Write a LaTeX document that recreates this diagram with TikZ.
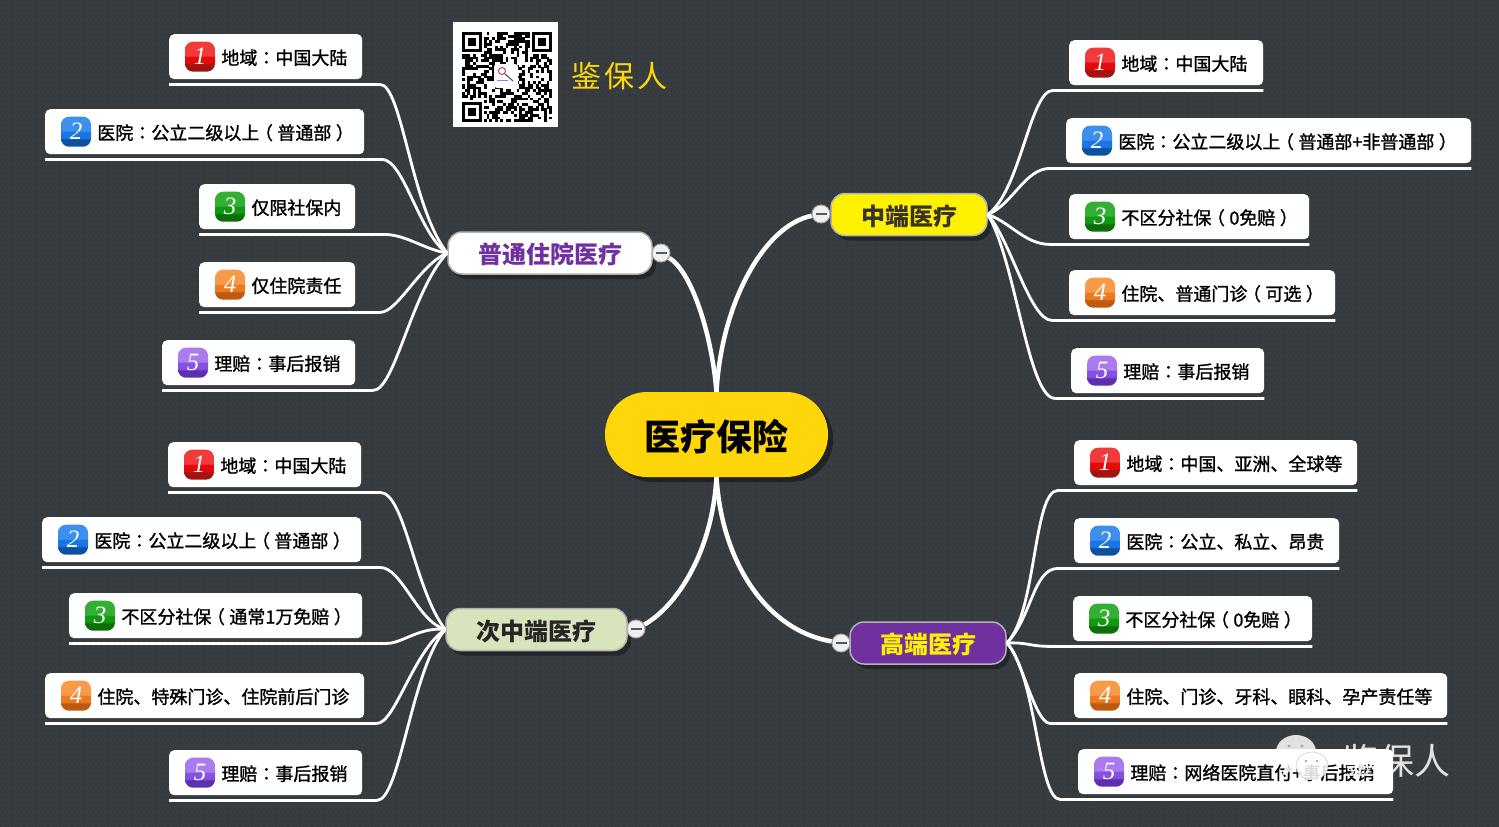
\documentclass[tikz,border=0pt]{standalone}
\usepackage{fontspec}
\usetikzlibrary{positioning}
\usetikzlibrary{calc,shadows,patterns.meta}
\newfontfamily\cjk{Noto Sans CJK SC}
\newfontfamily\cjkthick[FakeBold=1.3]{Noto Sans CJK SC}
\newfontfamily\cjkmid[FakeBold=1.3]{Noto Sans CJK TC}
\newfontfamily\numfont{Liberation Serif}
\newcommand{\cln}{{\cjkmid ：}}
\newcommand{\lpr}{\hspace{-4.5pt}（\hspace{4.5pt}}
\newcommand{\rpr}{\hspace{4.5pt}）\hspace{-4.5pt}}
\newcommand{\dropped}[2]{\raisebox{0pt}[\dimexpr\height+#1\relax]{#2}}
\definecolor{slate}{HTML}{373C41}
\definecolor{slatedot}{HTML}{2F3338}
\definecolor{rootgold}{HTML}{FFD60A}
\definecolor{plum}{HTML}{7030A0}
\colorlet{rimgrey}{gray!60}
\newcommand{\numshade}[4]{%
  \definecolor{#1t}{HTML}{#2}\definecolor{#1m}{HTML}{#3}\definecolor{#1b}{HTML}{#4}%
  \pgfdeclareverticalshading{#1}{100bp}{color(0bp)=(#1b);color(37bp)=(#1b);color(40bp)=(#1m);
    color(50bp)=(#1m);color(50.5bp)=(#1t);color(100bp)=(#1t)}}
\numshade{numred}{F23A3A}{E20A0A}{A01414}
\numshade{numblue}{3D8FEE}{1A76E6}{0D509E}
\numshade{numgreen}{33B033}{119911}{0B6E0B}
\numshade{numorange}{F79A4A}{EE7A20}{BB5A10}
\numshade{numpurple}{A97BEE}{8650E0}{5A2FB0}
\tikzset{
  twig/.style={white,line width=2.8pt},
  limb/.style={white,line width=4.5pt},
  leafbox/.style={fill=white,rounded corners=5pt,minimum height=45pt,inner sep=0pt,anchor=north west},
  numbox/.style={shade,rounded corners=8pt,minimum size=30pt,inner sep=0pt,text=white,font=\fontsize{25}{25}\numfont\itshape},
  leaftext/.style={inner sep=0pt,text=black,yshift=-1pt,font=\fontsize{18}{20}\cjkthick},
  topic/.style={rounded corners=14pt,draw=rimgrey,line width=1.5pt,inner sep=0pt,
    minimum height=42pt,font=\fontsize{24}{26}\cjk\bfseries,
    drop shadow={shadow xshift=4pt,shadow yshift=-5pt,fill=black,opacity=0.35}},
  toggle/.style={circle,draw=gray!70,fill=gray!12,line width=1pt,minimum size=18pt,inner sep=0pt,text=gray!70!black}
}
\newcommand{\leafitem}[8]{%
  \node[leafbox,minimum width=#4pt] (#1) at (#2,#3) {};
  \node[numbox,shading=#5] (#1n) at ($(#1.west)+(31,0)$) {#6};
  \node[leaftext,right=6pt of #1n] (#1t) {#7};
  \coordinate (#1l) at ($(#1.south west)+(0,5)$);
  \coordinate (#1r) at ($(#1.south east)+(0,5)$);
  \coordinate (#1e) at (#8,0 |- #1l);
}
\begin{document}
\begin{tikzpicture}[x=1pt,y=-1pt]
\useasboundingbox (0,0) rectangle (1499,827);

% Background
\fill[slate] (0,0) rectangle (1499,827);
\fill[pattern={Dots[distance=6pt,radius=0.9pt]},pattern color=slatedot] (0,0) rectangle (1499,827);

% Centre and main topics
\node[rounded corners=42pt,fill=rootgold,minimum width=223pt,minimum height=85pt,inner sep=0pt,
  font=\fontsize{36}{38}\cjk\bfseries,text=black,
  drop shadow={shadow xshift=5pt,shadow yshift=-5pt,fill=black,opacity=0.4}] (root) at (716.5,434.5) {\dropped{4pt}{医疗保险}};
\node[topic,fill=white,text=plum,minimum width=204pt] (nwT) at (550,253) {\dropped{3pt}{普通住院医疗}};
\node[topic,fill=yellow,text=black!80!olive,minimum width=156pt] (neT) at (909,214.5) {\dropped{3pt}{中端医疗}};
\node[topic,fill={rgb,255:red,216;green,228;blue,188},text=black!85,minimum width=181pt] (swT) at (536.5,629.5) {\dropped{3pt}{次中端医疗}};
\node[topic,fill=plum,text=yellow,minimum width=156pt] (seT) at (928,643) {\dropped{3pt}{高端医疗}};

\node[toggle] (nwG) at (661,253) {\rule{11pt}{1.2pt}};
\node[toggle] (neG) at (821,214) {\rule{11pt}{1.2pt}};
\node[toggle] (swG) at (636,629) {\rule{11pt}{1.2pt}};
\node[toggle] (seG) at (841,643) {\rule{11pt}{1.2pt}};

\draw[limb] (root.north) .. controls +(-5,-60) and +(30,18) .. (nwG);
\draw[limb] (root.north) .. controls +(5,-90) and +(-56,11) .. (neG);
\draw[limb] (root.south) .. controls +(-5,83) and +(35,-19) .. (swG);
\draw[limb] (root.south) .. controls +(5,83) and +(-76,-13) .. (seG);

% Upper left
\leafitem{nwA}{169}{34}{193}{numred}{1}{地域\cln 中国大陆}{380}
\leafitem{nwB}{45}{109}{319}{numblue}{2}{医院\cln 公立二级以上\lpr 普通部\rpr}{382}
\leafitem{nwC}{199}{184}{156}{numgreen}{3}{仅限社保内}{384}
\leafitem{nwD}{199}{262}{156}{numorange}{4}{仅住院责任}{380}
\leafitem{nwE}{162}{340}{193}{numpurple}{5}{理赔\cln 事后报销}{373}
\draw[twig] (nwAl) -- (nwAe) .. controls +(22,0) and +(-36,-45) .. (nwT.west);
\draw[twig] (nwBl) -- (nwBe) .. controls +(22,0) and +(-28,-18) .. (nwT.west);
\draw[twig] (nwCl) -- (nwCe) .. controls +(22,0) and +(-22,-3) .. (nwT.west);
\draw[twig] (nwDl) -- (nwDe) .. controls +(18,0) and +(-28,12) .. (nwT.west);
\draw[twig] (nwEl) -- (nwEe) .. controls +(22,0) and +(-36,38) .. (nwT.west);

% Upper right
\leafitem{neA}{1069}{40}{194}{numred}{1}{地域\cln 中国大陆}{1053}
\leafitem{neB}{1066}{118}{405}{numblue}{2}{医院\cln 公立二级以上\lpr 普通部+非普通部\rpr}{1050}
\leafitem{neC}{1069}{194}{240}{numgreen}{3}{不区分社保\lpr 0免赔\rpr}{1050}
\leafitem{neD}{1069}{270}{266}{numorange}{4}{住院、普通门诊\lpr 可选\rpr}{1052}
\leafitem{neE}{1071}{348}{193}{numpurple}{5}{理赔\cln 事后报销}{1055}
\draw[twig] (neAr) -- (neAe) .. controls +(-23,0) and +(33,-24) .. (neT.east);
\draw[twig] (neBr) -- (neBe) .. controls +(-25,0) and +(25,-10) .. (neT.east);
\draw[twig] (neCr) -- (neCe) .. controls +(-25,0) and +(23,8) .. (neT.east);
\draw[twig] (neDr) -- (neDe) .. controls +(-22,0) and +(23,26) .. (neT.east);
\draw[twig] (neEr) -- (neEe) .. controls +(-27,0) and +(28,46) .. (neT.east);

% Lower left
\leafitem{swA}{168}{442}{193}{numred}{1}{地域\cln 中国大陆}{380}
\leafitem{swB}{42}{517}{319}{numblue}{2}{医院\cln 公立二级以上\lpr 普通部\rpr}{380}
\leafitem{swC}{69}{593}{293}{numgreen}{3}{不区分社保\lpr 通常1万免赔\rpr}{387}
\leafitem{swD}{45}{673}{319}{numorange}{4}{住院、特殊门诊、住院前后门诊}{377}
\leafitem{swE}{169}{750}{193}{numpurple}{5}{理赔\cln 事后报销}{377}
\draw[twig] (swAl) -- (swAe) .. controls +(25,0) and +(-31,-40) .. (swT.west);
\draw[twig] (swBl) -- (swBe) .. controls +(22,0) and +(-28,-8) .. (swT.west);
\draw[twig] (swCl) -- (swCe) .. controls +(15,0) and +(-25,-3) .. (swT.west);
\draw[twig] (swDl) -- (swDe) .. controls +(18,0) and +(-31,20) .. (swT.west);
\draw[twig] (swEl) -- (swEe) .. controls +(23,0) and +(-34,40) .. (swT.west);

% Lower right
\leafitem{seA}{1074}{440}{283}{numred}{1}{地域\cln 中国、亚洲、全球等}{1058}
\leafitem{seB}{1074}{518}{265}{numblue}{2}{医院\cln 公立、私立、昂贵}{1058}
\leafitem{seC}{1073}{596}{239}{numgreen}{3}{不区分社保\lpr 0免赔\rpr}{1050}
\leafitem{seD}{1074}{673}{373}{numorange}{4}{住院、门诊、牙科、眼科、孕产责任等}{1050}
\leafitem{seE}{1078}{749}{315}{numpurple}{5}{理赔\cln 网络医院直付+事后报销}{1060}
\draw[twig] (seAr) -- (seAe) .. controls +(-25,0) and +(30,-30) .. (seT.east);
\draw[twig] (seBr) -- (seBe) .. controls +(-25,0) and +(25,-25) .. (seT.east);
\draw[twig] (seCr) -- (seCe) .. controls +(-20,0) and +(20,-1) .. (seT.east);
\draw[twig] (seDr) -- (seDe) .. controls +(-15,0) and +(14,12) .. (seT.east);
\draw[twig] (seEr) -- (seEe) .. controls +(-22,0) and +(30,32) .. (seT.east);

% QR card
\node[fill=white,minimum size=105pt,inner sep=0pt] (qrcard) at (505.5,74.5) {};
\pgfmathsetseed{3141}
\foreach \i in {0,...,32}
  \foreach \j in {0,...,32} {
    \pgfmathparse{rnd<0.52 ? 1 : 0}
    \ifnum\pgfmathresult=1
      \fill[black] (462+2.73*\i,32+2.73*\j) rectangle +(2.8,2.8);
    \fi
  }
\foreach \cx/\cy in {462/32,532/32,462/102} {
  \fill[white] (\cx-2,\cy-2) rectangle +(24,24);
  \fill[black] (\cx,\cy) rectangle +(19.5,19.5);
  \fill[white] (\cx+2.8,\cy+2.8) rectangle +(13.9,13.9);
  \fill[black] (\cx+5.6,\cy+5.6) rectangle +(8.3,8.3);
}
\fill[white,rounded corners=3pt] (494,64) rectangle (518,88);
\draw[red!40!gray,line width=1pt] (502,71) circle (3.5);
\draw[black!70,line width=1pt] (505,74) -- (513,81);
\draw[blue!50!white,line width=1pt] (497,80) -- (508,80);
\node[inner sep=0pt,font=\fontsize{30}{32}\cjk,text=rootgold] (brand) at (619,76) {鉴\hspace{3pt}保\hspace{3pt}人};

% Watermark
\fill[white,opacity=0.85] (1296,752) ellipse (20 and 17);
\fill[white,opacity=0.85] (1285,767) -- (1282,776) -- (1294,769) -- cycle;
\fill[white,opacity=0.85,draw=gray!60] (1312,766) ellipse (16 and 14);
\fill[white,opacity=0.85] (1320,778) -- (1324,785) -- (1312,780) -- cycle;
\fill[gray!70] (1289,746) circle (1.6) (1302,746) circle (1.6) (1306,761) circle (1.3) (1317,761) circle (1.3);
\node[inner sep=0pt,font=\fontsize{36}{38}\cjk,text=white,opacity=0.85] (mark) at (1396,761) {鉴保人};

\end{tikzpicture}
\end{document}
